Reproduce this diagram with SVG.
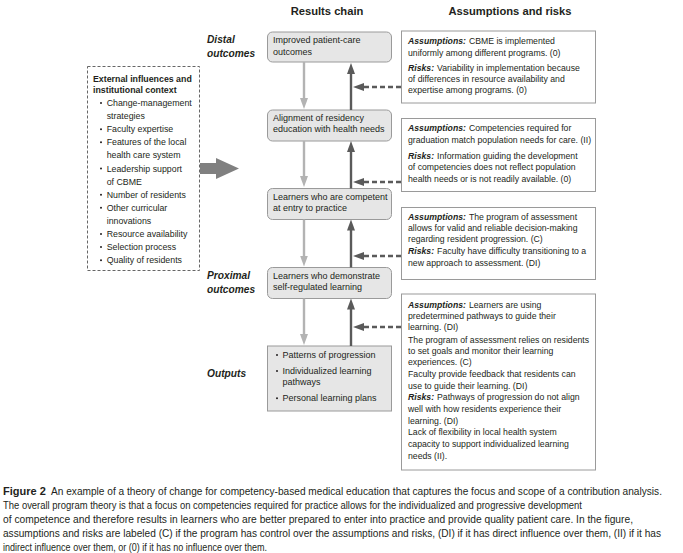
<svg xmlns="http://www.w3.org/2000/svg" width="683" height="553" viewBox="0 0 683 553">
<style>
text{font-family:"Liberation Sans",Arial,sans-serif;fill:#231f20}
.hdr{font-size:11.2px;font-weight:bold}
.lvl{font-size:10.2px;font-weight:bold;font-style:italic}
.cb{fill:#e6e6e6;stroke:#9a9a9a;stroke-width:1}
.ct{font-size:9px}
.ab{fill:#fff;stroke:#9a9a9a;stroke-width:1}
.at{font-size:8.7px}
.bi{font-weight:bold;font-style:italic}
.lt{font-size:8.8px}
.dot{fill:#231f20}
.down{stroke:#b3b3b3;stroke-width:2.4;fill:none}
.up{stroke:#5a5a5a;stroke-width:2.4;fill:none}
.dash{stroke:#5a5a5a;stroke-width:2.4;fill:none;stroke-dasharray:5 3}
.cap{font-size:10.4px}
</style>
<defs>
<marker id="mDown" markerUnits="userSpaceOnUse" markerWidth="11" markerHeight="8" refX="5" refY="4" orient="auto"><path d="M0,0 L11,4 L0,8 z" fill="#b3b3b3"/></marker>
<marker id="mUp" markerUnits="userSpaceOnUse" markerWidth="11" markerHeight="8" refX="5" refY="4" orient="auto"><path d="M0,0 L11,4 L0,8 z" fill="#5a5a5a"/></marker>
</defs>

<g id="headers">
<text class="hdr" x="327" y="15" text-anchor="middle">Results chain</text>
<text class="hdr" x="510" y="15" text-anchor="middle">Assumptions and risks</text>
</g>

<g id="levels">
<text class="lvl" x="207" y="42.5">Distal</text>
<text class="lvl" x="207" y="57">outcomes</text>
<text class="lvl" x="207" y="278.5">Proximal</text>
<text class="lvl" x="207" y="293">outcomes</text>
<text class="lvl" x="207" y="377">Outputs</text>
</g>

<g id="context">
<rect x="87.5" y="66.5" width="112" height="204" fill="#fff" stroke="#666" stroke-width="1" stroke-dasharray="3 2"/>
<text class="lt" font-weight="bold" x="93" y="81.5">External influences and</text>
<text class="lt" font-weight="bold" x="93" y="92.5">institutional context</text>
<circle class="dot" cx="101" cy="103" r="1"/><text class="lt" x="106.7" y="106">Change-management</text>
<text class="lt" x="106.7" y="119.1">strategies</text>
<circle class="dot" cx="101" cy="129.2" r="1"/><text class="lt" x="106.7" y="132.2">Faculty expertise</text>
<circle class="dot" cx="101" cy="142.3" r="1"/><text class="lt" x="106.7" y="145.3">Features of the local</text>
<text class="lt" x="106.7" y="158.4">health care system</text>
<circle class="dot" cx="101" cy="168.5" r="1"/><text class="lt" x="106.7" y="171.5">Leadership support</text>
<text class="lt" x="106.7" y="184.6">of CBME</text>
<circle class="dot" cx="101" cy="194.7" r="1"/><text class="lt" x="106.7" y="197.7">Number of residents</text>
<circle class="dot" cx="101" cy="207.8" r="1"/><text class="lt" x="106.7" y="210.8">Other curricular</text>
<text class="lt" x="106.7" y="223.9">innovations</text>
<circle class="dot" cx="101" cy="234" r="1"/><text class="lt" x="106.7" y="237">Resource availability</text>
<circle class="dot" cx="101" cy="247.1" r="1"/><text class="lt" x="106.7" y="250.1">Selection process</text>
<circle class="dot" cx="101" cy="260.2" r="1"/><text class="lt" x="106.7" y="263.2">Quality of residents</text>
</g>

<g id="chain1">
<rect class="cb" x="267.5" y="32" width="124" height="30" rx="5"/>
<text class="ct" x="273" y="43">Improved patient-care</text>
<text class="ct" x="273" y="54.7">outcomes</text>
</g>
<g id="chain2">
<rect class="cb" x="267.5" y="110" width="124" height="31" rx="5"/>
<text class="ct" x="273" y="121.3">Alignment of residency</text>
<text class="ct" x="273" y="132.3">education with health needs</text>
</g>
<g id="chain3">
<rect class="cb" x="267.5" y="188.5" width="124" height="31" rx="5"/>
<text class="ct" x="273" y="200.3">Learners who are competent</text>
<text class="ct" x="273" y="211.3">at entry to practice</text>
</g>
<g id="chain4">
<rect class="cb" x="267.5" y="267.5" width="124" height="31" rx="5"/>
<text class="ct" x="273" y="279">Learners who demonstrate</text>
<text class="ct" x="273" y="290.3">self-regulated learning</text>
</g>
<g id="chain5">
<rect class="cb" x="267.5" y="346" width="124" height="65"/>
<circle class="dot" cx="277" cy="355" r="1"/><text class="ct" x="282.5" y="358">Patterns of progression</text>
<circle class="dot" cx="277" cy="371" r="1"/><text class="ct" x="282.5" y="374">Individualized learning</text>
<text class="ct" x="282.5" y="384.7">pathways</text>
<circle class="dot" cx="277" cy="398.3" r="1"/><text class="ct" x="282.5" y="401.3">Personal learning plans</text>
</g>

<g id="risksA">
<rect class="ab" x="401.5" y="31" width="194" height="72"/>
<text class="at" x="408" y="44"><tspan class="bi">Assumptions:</tspan><tspan dx="3">CBME is implemented</tspan></text>
<text class="at" x="408" y="55.7">uniformly among different programs. (0)</text>
<text class="at" x="408" y="71.3"><tspan class="bi">Risks:</tspan><tspan dx="3">Variability in implementation because</tspan></text>
<text class="at" x="408" y="82">of differences in resource availability and</text>
<text class="at" x="408" y="93">expertise among programs. (0)</text>
</g>
<g id="risksB">
<rect class="ab" x="401.5" y="118.5" width="194" height="73"/>
<text class="at" x="408" y="131.3"><tspan class="bi">Assumptions:</tspan><tspan dx="3">Competencies required for</tspan></text>
<text class="at" x="408" y="143">graduation match population needs for care. (II)</text>
<text class="at" x="408" y="159"><tspan class="bi">Risks:</tspan><tspan dx="3">Information guiding the development</tspan></text>
<text class="at" x="408" y="170.3">of competencies does not reflect population</text>
<text class="at" x="408" y="182">health needs or is not readily available. (0)</text>
</g>
<g id="risksC">
<rect class="ab" x="401.5" y="207.5" width="194" height="72"/>
<text class="at" x="408" y="219.7"><tspan class="bi">Assumptions:</tspan><tspan dx="3">The program of assessment</tspan></text>
<text class="at" x="408" y="231.3">allows for valid and reliable decision-making</text>
<text class="at" x="408" y="242.3">regarding resident progression. (C)</text>
<text class="at" x="408" y="254"><tspan class="bi">Risks:</tspan><tspan dx="3">Faculty have difficulty transitioning to a</tspan></text>
<text class="at" x="408" y="265.7">new approach to assessment. (DI)</text>
</g>
<g id="risksD">
<rect class="ab" x="401.5" y="294" width="194" height="176"/>
<text class="at" x="408" y="308"><tspan class="bi">Assumptions:</tspan><tspan dx="3">Learners are using</tspan></text>
<text class="at" x="408" y="319">predetermined pathways to guide their</text>
<text class="at" x="408" y="330.3">learning. (DI)</text>
<text class="at" x="408" y="343">The program of assessment relies on residents</text>
<text class="at" x="408" y="354.3">to set goals and monitor their learning</text>
<text class="at" x="408" y="365.3">experiences. (C)</text>
<text class="at" x="408" y="377.3">Faculty provide feedback that residents can</text>
<text class="at" x="408" y="388.7">use to guide their learning. (DI)</text>
<text class="at" x="408" y="400.3"><tspan class="bi">Risks:</tspan><tspan dx="3">Pathways of progression do not align</tspan></text>
<text class="at" x="408" y="412.3">well with how residents experience their</text>
<text class="at" x="408" y="424">learning. (DI)</text>
<text class="at" x="408" y="435.3">Lack of flexibility in local health system</text>
<text class="at" x="408" y="447">capacity to support individualized learning</text>
<text class="at" x="408" y="458.7">needs (II).</text>
</g>

<g id="connectors">
<polygon points="200,163 216,163 216,158 239,168.5 216,179 216,174 200,174" fill="#808080"/>
<line class="down" x1="304" y1="62" x2="304" y2="103" marker-end="url(#mDown)"/>
<line class="down" x1="304" y1="141" x2="304" y2="181" marker-end="url(#mDown)"/>
<line class="down" x1="304" y1="219.5" x2="304" y2="260.5" marker-end="url(#mDown)"/>
<line class="down" x1="304" y1="298.5" x2="304" y2="339" marker-end="url(#mDown)"/>
<line class="up" x1="351" y1="110" x2="351" y2="69" marker-end="url(#mUp)"/>
<line class="up" x1="351" y1="188.5" x2="351" y2="147" marker-end="url(#mUp)"/>
<line class="up" x1="351" y1="267.5" x2="351" y2="225.5" marker-end="url(#mUp)"/>
<line class="up" x1="351" y1="346" x2="351" y2="304.5" marker-end="url(#mUp)"/>
<line class="dash" x1="401" y1="87" x2="359" y2="87" marker-end="url(#mUp)"/>
<line class="dash" x1="401" y1="182" x2="359" y2="182" marker-end="url(#mUp)"/>
<line class="dash" x1="401" y1="256" x2="359" y2="256" marker-end="url(#mUp)"/>
<line class="dash" x1="401" y1="327" x2="359" y2="327" marker-end="url(#mUp)"/>
</g>

<g id="caption">
<text x="3" y="494.5" font-size="11" font-weight="bold">Figure 2</text>
<text class="cap" x="51" y="494.5" textLength="611" lengthAdjust="spacingAndGlyphs">An example of a theory of change for competency-based medical education that captures the focus and scope of a contribution analysis.</text>
<text class="cap" x="3" y="508.6" textLength="579" lengthAdjust="spacingAndGlyphs">The overall program theory is that a focus on competencies required for practice allows for the individualized and progressive development</text>
<text class="cap" x="3" y="522.7" textLength="630" lengthAdjust="spacingAndGlyphs">of competence and therefore results in learners who are better prepared to enter into practice and provide quality patient care. In the figure,</text>
<text class="cap" x="3" y="536.8" textLength="658" lengthAdjust="spacingAndGlyphs">assumptions and risks are labeled (C) if the program has control over the assumptions and risks, (DI) if it has direct influence over them, (II) if it has</text>
<text class="cap" x="3" y="550.9" textLength="264" lengthAdjust="spacingAndGlyphs">indirect influence over them, or (0) if it has no influence over them.</text>
</g>
</svg>
